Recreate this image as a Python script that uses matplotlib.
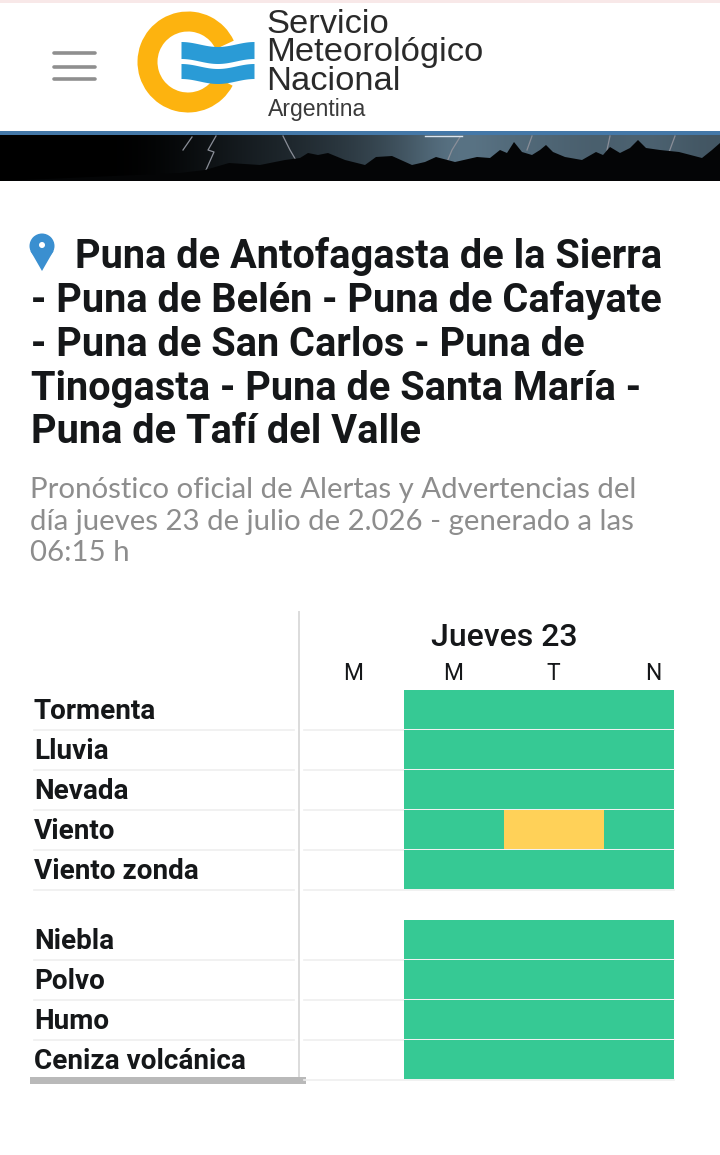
import numpy as np
import matplotlib
matplotlib.use("Agg")
import matplotlib.pyplot as plt
from matplotlib.patches import Wedge, Rectangle, Circle, Polygon

# --- data ---
title_lines = ["Puna de Antofagasta de la Sierra",
               "- Puna de Belén - Puna de Cafayate",
               "- Puna de San Carlos - Puna de",
               "Tinogasta - Puna de Santa María -",
               "Puna de Tafí del Valle"]
subtitle_lines = ["Pronóstico oficial de Alertas y Advertencias del",
                  "día jueves 23 de julio de 2.026 - generado a las",
                  "06:15 h"]
day_label = "Jueves 23"
periods = ["M", "M", "T", "N"]
hazards_a = ["Tormenta", "Lluvia", "Nevada", "Viento", "Viento zonda"]
hazards_b = ["Niebla", "Polvo", "Humo", "Ceniza volcánica"]
# 0 = no forecast, 1 = green, 2 = yellow
levels_a = [[0, 1, 1, 1], [0, 1, 1, 1], [0, 1, 1, 1], [0, 1, 2, 1], [0, 1, 1, 1]]
levels_b = [[0, 1, 1, 1], [0, 1, 1, 1], [0, 1, 1, 1], [0, 1, 1, 1]]
level_colors = {1: "#36C994", 2: "#FFD158"}
logo_lines = [("Servicio", 266, 24.5), ("Meteorológico", 266, 52.5), ("Nacional", 266, 82)]

W, H = 720, 1155
fig = plt.figure(figsize=(W / 100, H / 100), dpi=100, facecolor="white")
bg = fig.add_axes([0, 0, 1, 1])
bg.set_xlim(0, W)
bg.set_ylim(H, 0)
bg.axis("off")

# status strip, header rule and banner
bg.add_patch(Rectangle((0, 0), W, 3, color="#F8E8E8", lw=0))
bg.add_patch(Rectangle((0, 131), W, 4, color="#4478A8", lw=0))
grad = np.array([[0, 0, 0, .03, .1, .16, .22, .3, .42, .6, .52, .5, .45, .5, .42]])
bg.imshow(np.dstack([grad * .62, grad * .8, grad * .92]), extent=(0, W, 181, 135),
          aspect="auto", interpolation="bicubic", zorder=1)
bg.set_xlim(0, W)
bg.set_ylim(H, 0)
sil_x = [0, 180, 205, 229, 260, 285, 300, 308, 318, 328, 345, 365, 376, 392, 412, 425, 436, 455,
         477, 490, 500, 507, 514, 522, 532, 540, 546, 553, 565, 582, 596, 603, 610, 620, 630,
         638, 646, 660, 679, 702, 712, 720, 720, 0]
sil_y = [181, 173, 170, 163, 165, 160, 158, 153, 155, 153, 160, 165, 157, 156, 165, 162, 157, 162,
         157, 158, 150, 153, 142, 152, 155, 150, 145, 152, 157, 160, 152, 155, 147, 153, 148,
         140, 148, 150, 152, 158, 150, 143, 181, 181]
bg.add_patch(Polygon(np.c_[sil_x, sil_y], closed=True, color="#040506", lw=0, zorder=2))
for xs, ys in [([216, 208, 214, 206], [136, 150, 152, 170]),
               ([283, 290, 297], [136, 150, 162]),
               ([183, 192], [150, 137]),
               ([460, 452, 447], [137, 150, 162]),
               ([532, 527], [136, 150]),
               ([610, 607], [136, 150]),
               ([675, 668], [136, 155])]:
    bg.plot(xs, ys, color="#8A8E98", lw=0.9, zorder=1.5)
bg.plot([425, 462], [135.5, 135.5], color="#DCE6F0", lw=1, zorder=3)

# hamburger
for y in (53, 66.5, 79):
    bg.plot([53.5, 95], [y, y], color="#8F8F8F", lw=2.6, solid_capstyle="round")

# logo ring
bg.add_patch(Wedge((188, 62), 50.5, 28, 335, width=20, color="#FDB30F", lw=0, zorder=3))
def wave(x0, x1, ytop, ybot):
    xs = np.linspace(x0, x1, 40)
    off = -2.5 * np.cos((xs - x0) / (x1 - x0) * 2 * np.pi)
    return xs, ytop + off, ybot + off
for yt, yb in [(44, 61), (66, 81)]:
    xs, a, b = wave(181, 254, yt, yb)
    bg.fill_between(xs, a, b, color="#2A9BD6", lw=0, zorder=4)

# logo text
for s, x, y in logo_lines:
    bg.text(x, y, s, family="Liberation Sans", fontsize=24.8, color="#2A2A2A", va="center", ha="left")
bg.text(268, 109.5, "Argentina", family="Liberation Sans", fontsize=16.6, color="#3A3A3A",
        va="center", ha="left")

# pin
bg.add_patch(Circle((42, 246), 12.5, color="#3A8FD0", lw=0))
bg.add_patch(Polygon([[30.5, 251], [53.5, 251], [42, 271]], closed=True, color="#3A8FD0", lw=0))
bg.add_patch(Circle((42, 245), 3, color="white", lw=0))

# title and subtitle
title_x = [75, 31, 31, 31, 31]
title_y = [256, 300, 344.5, 388.5, 432]
for s, x, y in zip(title_lines, title_x, title_y):
    bg.text(x, y, s, family="Roboto", weight="semibold", fontsize=28.65, color="#151719",
            va="center", ha="left")
for s, y in zip(subtitle_lines, [490, 522, 553]):
    bg.text(30, y, s, family="Lato", fontsize=21.2, color="#8D8D8D", va="center", ha="left")

# grid
rows = hazards_a + hazards_b
levels = levels_a + levels_b
gap = 0.75
ypos = [i for i in range(len(hazards_a))] + [len(hazards_a) + gap + i for i in range(len(hazards_b))]
ax = fig.add_axes([304 / W, 1 - 1080 / H, 370 / W, 390 / H])
ax.set_xlim(0, 3.7)
ax.set_ylim(ypos[-1] + 1, 0)
ax.axis("off")
for r, (y, row) in enumerate(zip(ypos, levels)):
    for c, lv in enumerate(row):
        if lv:
            ax.bar(c + .5, 0.965, width=1, bottom=y, color=level_colors[lv], lw=0, zorder=2)
    ax.plot([0, 3.7], [y + 0.995, y + 0.995], color="#EFEFEF", lw=1.2, zorder=1, clip_on=False)
    # row label
    bg.text(34, 690 + 40 * y + 21.5, rows[r], family="Roboto", weight="semibold", fontsize=20.1,
            color="#151719", va="center", ha="left")
    bg.plot([34, 294], [690 + 40 * y + 39.8] * 2, color="#EFEFEF", lw=1.2)

# column heads
for c, p in enumerate(periods):
    bg.text(353.5 + 100 * c, 673.5, p, family="Roboto", fontsize=16.5, color="#151719", ha="center", va="center")
bg.text(504, 638, day_label, family="Roboto", weight="medium", fontsize=23, color="#151719",
        ha="center", va="center")

# divider and scrollbar
bg.plot([299, 299], [612, 1080], color="#DCDCDC", lw=1.4)
bg.add_patch(Rectangle((30, 1077), 276, 7, color="#B9B9B9", lw=0, zorder=5))

fig.savefig("out.png", dpi=100, facecolor="white")
